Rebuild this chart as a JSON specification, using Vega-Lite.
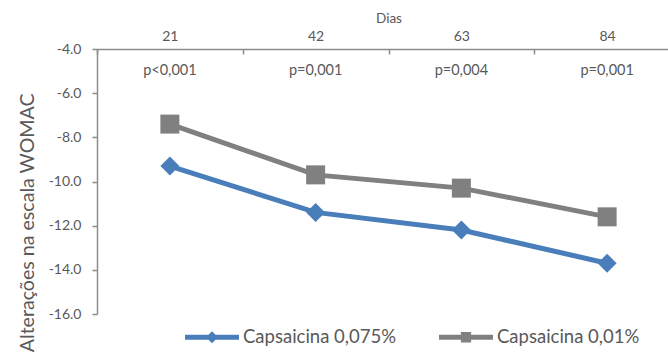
{
  "$schema": "https://vega.github.io/schema/vega-lite/v6.json",
  "width": 571,
  "height": 265,
  "autosize": "none",
  "padding": {"left": 97, "top": 49, "right": 0, "bottom": 40},
  "background": "white",
  "config": {"font": "Lato", "view": {"stroke": null}, "axis": {"grid": false}},
  "datasets": {
    "series": [
      {"dia": 21, "serie": "Capsaicina 0,075%", "valor": -9.3},
      {"dia": 42, "serie": "Capsaicina 0,075%", "valor": -11.4},
      {"dia": 63, "serie": "Capsaicina 0,075%", "valor": -12.2},
      {"dia": 84, "serie": "Capsaicina 0,075%", "valor": -13.7},
      {"dia": 21, "serie": "Capsaicina 0,01%", "valor": -7.4},
      {"dia": 42, "serie": "Capsaicina 0,01%", "valor": -9.7},
      {"dia": 63, "serie": "Capsaicina 0,01%", "valor": -10.3},
      {"dia": 84, "serie": "Capsaicina 0,01%", "valor": -11.6}
    ],
    "pvals": [
      {"dia": 21, "p": "p<0,001"},
      {"dia": 42, "p": "p=0,001"},
      {"dia": 63, "p": "p=0,004"},
      {"dia": 84, "p": "p=0,001"}
    ]
  },
  "encoding": {
    "x": {
      "field": "dia", "type": "ordinal", "sort": [21, 42, 63, 84],
      "scale": {"type": "band", "range": [0, 583], "paddingInner": 0, "paddingOuter": 0},
      "axis": {
        "orient": "top", "title": "Dias", "labelAngle": 0, "tickBand": "extent",
        "tickSize": -5, "labelPadding": 11, "labelFontSize": 14, "labelColor": "#595959",
        "titleFontSize": 13.5, "titleFontWeight": "normal", "titleColor": "#595959",
        "titleY": -27, "titleBaseline": "alphabetic",
        "domainColor": "#8c8c8c", "domainWidth": 1.5, "tickColor": "#8c8c8c", "tickWidth": 1.5
      }
    }
  },
  "layer": [
    {
      "data": {"name": "series"},
      "mark": {"type": "line", "strokeWidth": 5},
      "encoding": {
        "y": {
          "field": "valor", "type": "quantitative",
          "scale": {"domain": [-16, -4], "nice": false, "zero": false},
          "axis": {
            "title": "Alterações na escala WOMAC",
            "values": [-16, -14, -12, -10, -8, -6, -4],
            "labelExpr": "replace(format(datum.value, '.1f'), '−', '-')",
            "tickSize": 5, "labelPadding": 11, "labelFontSize": 14, "labelColor": "#595959",
            "titleAngle": 270, "titleAlign": "right", "titleBaseline": "middle",
            "titleX": -70, "titleY": 44, "titleFontSize": 19.6, "titleFontWeight": "normal",
            "titleColor": "#595959",
            "domainColor": "#8c8c8c", "domainWidth": 1.5, "tickColor": "#8c8c8c", "tickWidth": 1.5
          }
        },
        "color": {
          "field": "serie", "type": "nominal",
          "scale": {"domain": ["Capsaicina 0,075%", "Capsaicina 0,01%"], "range": ["#4A7EBB", "#808080"]},
          "legend": {
            "orient": "none", "legendX": 88, "legendY": 261, "direction": "horizontal",
            "title": null, "symbolSize": 2916, "labelFontSize": 18.5, "labelColor": "#595959",
            "labelOffset": 4, "columnPadding": 42, "padding": 0,
            "encode": {
              "symbols": {
                "update": {
                  "shape": {"signal": "datum.value === 'Capsaicina 0,075%' ? 'M-1,-0.09L-0.13,-0.09L0,-0.22L0.13,-0.09L1,-0.09L1,0.09L0.13,0.09L0,0.22L-0.13,0.09L-1,0.09Z' : 'M-1,-0.09L-0.19,-0.09L-0.19,-0.19L0.19,-0.19L0.19,-0.09L1,-0.09L1,0.09L0.19,0.09L0.19,0.19L-0.19,0.19L-0.19,0.09L-1,0.09Z'"},
                  "fill": {"signal": "datum.value === 'Capsaicina 0,075%' ? '#4A7EBB' : '#808080'"},
                  "stroke": {"value": "transparent"},
                  "strokeWidth": {"value": 0},
                  "opacity": {"value": 1}
                }
              }
            }
          }
        }
      }
    },
    {
      "data": {"name": "series"},
      "transform": [{"filter": "datum.serie === 'Capsaicina 0,075%'"}],
      "mark": {"type": "point", "filled": true, "opacity": 1, "size": 361, "shape": "diamond"},
      "encoding": {
        "y": {"field": "valor", "type": "quantitative"},
        "color": {"field": "serie", "type": "nominal", "legend": null}
      }
    },
    {
      "data": {"name": "series"},
      "transform": [{"filter": "datum.serie === 'Capsaicina 0,01%'"}],
      "mark": {"type": "point", "filled": true, "opacity": 1, "size": 361, "shape": "square"},
      "encoding": {
        "y": {"field": "valor", "type": "quantitative"},
        "color": {"field": "serie", "type": "nominal", "legend": null}
      }
    },
    {
      "data": {"name": "pvals"},
      "mark": {"type": "text", "fontSize": 14.5, "color": "#595959"},
      "encoding": {
        "y": {"datum": -5},
        "text": {"field": "p", "type": "nominal"}
      }
    }
  ]
}
